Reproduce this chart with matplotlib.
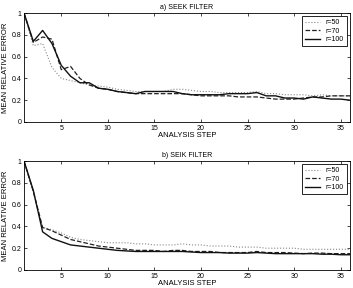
import matplotlib
matplotlib.use("Agg")
import matplotlib.pyplot as plt

steps = list(range(1, 37))

seek_r50 = [1.0, 0.70, 0.72, 0.50, 0.40, 0.38, 0.36, 0.34, 0.33, 0.32, 0.30, 0.29,
            0.28, 0.28, 0.28, 0.28, 0.30, 0.30, 0.29, 0.28, 0.28, 0.27, 0.27, 0.27,
            0.27, 0.28, 0.26, 0.26, 0.25, 0.25, 0.25, 0.24, 0.25, 0.24, 0.24, 0.24]
seek_r70 = [1.0, 0.73, 0.78, 0.76, 0.48, 0.51, 0.40, 0.34, 0.31, 0.30, 0.28, 0.27,
            0.26, 0.26, 0.26, 0.26, 0.26, 0.26, 0.25, 0.24, 0.24, 0.24, 0.24, 0.23,
            0.23, 0.23, 0.22, 0.21, 0.21, 0.21, 0.22, 0.23, 0.23, 0.24, 0.24, 0.24]
seek_r100 = [1.0, 0.74, 0.84, 0.72, 0.52, 0.42, 0.36, 0.36, 0.31, 0.30, 0.28, 0.27,
             0.26, 0.28, 0.28, 0.28, 0.28, 0.26, 0.25, 0.25, 0.25, 0.25, 0.26, 0.26,
             0.26, 0.27, 0.24, 0.24, 0.22, 0.22, 0.21, 0.23, 0.22, 0.21, 0.21, 0.20]

seik_r50 = [1.0, 0.72, 0.39, 0.37, 0.34, 0.30, 0.28, 0.27, 0.26, 0.25, 0.25, 0.25,
            0.24, 0.24, 0.23, 0.23, 0.23, 0.24, 0.23, 0.23, 0.22, 0.22, 0.22, 0.21,
            0.21, 0.21, 0.20, 0.20, 0.20, 0.20, 0.19, 0.19, 0.19, 0.19, 0.19, 0.19]
seik_r70 = [1.0, 0.72, 0.39, 0.36, 0.32, 0.28, 0.26, 0.24, 0.22, 0.21, 0.20, 0.19,
            0.18, 0.18, 0.18, 0.17, 0.18, 0.18, 0.17, 0.17, 0.17, 0.16, 0.16, 0.16,
            0.16, 0.17, 0.16, 0.16, 0.16, 0.155, 0.15, 0.155, 0.155, 0.15, 0.15, 0.15]
seik_r100 = [1.0, 0.73, 0.35, 0.29, 0.26, 0.23, 0.22, 0.21, 0.20, 0.19, 0.18, 0.175,
             0.17, 0.17, 0.17, 0.17, 0.17, 0.17, 0.165, 0.16, 0.16, 0.16, 0.155, 0.155,
             0.155, 0.16, 0.155, 0.15, 0.15, 0.15, 0.15, 0.15, 0.145, 0.145, 0.14, 0.14]

labels = ["r=50", "r=70", "r=100"]
styles = [(":", 0.8, "#888888"), ("--", 0.9, "#222222"), ("-", 1.0, "#111111")]

plt.rcParams["font.family"] = ["Liberation Sans", "DejaVu Sans"]
plt.rcParams["font.size"] = 5

fig = plt.figure(figsize=(3.53, 2.88), dpi=100)
ax_top = fig.add_axes([24 / 353, 1 - 122 / 288, 326 / 353, 109 / 288])
ax_bot = fig.add_axes([24 / 353, 1 - 270 / 288, 326 / 353, 109 / 288])

panels = [
    (ax_top, "a) SEEK FILTER", [seek_r50, seek_r70, seek_r100]),
    (ax_bot, "b) SEIK FILTER", [seik_r50, seik_r70, seik_r100]),
]

for ax, title, series in panels:
    for values, label, (ls, lw, color) in zip(series, labels, styles):
        ax.plot(steps, values, linestyle=ls, linewidth=lw, color=color, label=label)
    ax.set_xlim(1, 36)
    ax.set_ylim(0, 1)
    ax.set_xticks([5, 10, 15, 20, 25, 30, 35])
    ax.set_yticks([0, 0.2, 0.4, 0.6, 0.8, 1])
    ax.set_yticklabels(["0", "0.2", "0.4", "0.6", "0.8", "1"])
    ax.tick_params(direction="in", top=True, right=True, length=2, width=0.5, pad=2)
    for spine in ax.spines.values():
        spine.set_linewidth(0.6)
    ax.set_title(title, fontsize=5, pad=3)
    ax.set_xlabel("ANALYSIS STEP", fontsize=5.5, labelpad=0)
    ax.set_ylabel("MEAN RELATIVE ERROR", fontsize=5.5, labelpad=2)
    leg = ax.legend(loc="upper right", fontsize=5, handlelength=2.2, borderpad=0.4,
                    labelspacing=0.2, fancybox=False, edgecolor="black", framealpha=1)
    leg.get_frame().set_linewidth(0.6)

fig.savefig("out.png", dpi=100)
